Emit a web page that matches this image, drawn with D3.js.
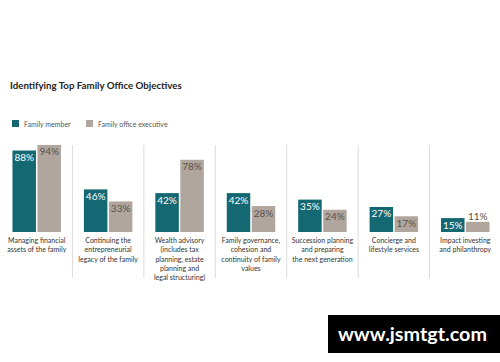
<!DOCTYPE html>
<html><head><meta charset="utf-8">
<script src="https://cdn.jsdelivr.net/npm/d3@7"></script>
<style>body{margin:0;background:#fff}svg{display:block}text{font-family:Lato,"Open Sans",sans-serif}</style>
</head><body><svg id="c" width="500" height="362"></svg>
<script>
const categories = ["c1","c2","c3","c4","c5","c6","c7"];
const categoryLabels = [
  ["Managing financial","assets of the family"],
  ["Continuing the","entrepreneurial","legacy of the family"],
  ["Wealth advisory","(includes tax","planning, estate","planning and","legal structuring)"],
  ["Family governance,","cohesion and","continuity of family","values"],
  ["Succession planning","and preparing","the next generation"],
  ["Concierge and","lifestyle services"],
  ["Impact investing","and philanthropy"]
];
const seriesNames = ["Family member","Family office executive"];
const familyMember = [88,46,42,42,35,27,15];
const officeExecutive = [94,33,78,28,24,17,11];
const colors = ["#146872","#b0a69d"];

const svg = d3.select("#c");
const x = d3.scaleBand().domain(categories).range([1,501]);
const y = d3.scaleLinear().domain([0,100]).range([232,139.4]);
const barW = 23.5, gap = 1.5;

svg.append("text").attr("x",10).attr("y",89).attr("font-size",9.7).attr("font-weight",700).attr("fill","#222")
  .text("Identifying Top Family Office Objectives");

// legend
const lg = svg.append("g");
seriesNames.forEach((s,i)=>{
  const lx = i===0?12:86;
  lg.append("rect").attr("x",lx).attr("y",120).attr("width",7).attr("height",7).attr("fill",colors[i]);
  lg.append("text").attr("x",lx+12).attr("y",126.5).attr("font-size",7).attr("fill","#555").text(s);
});

// dividers
categories.slice(1).forEach(c=>{
  svg.append("line").attr("x1",x(c)).attr("x2",x(c)).attr("y1",145).attr("y2",278)
    .attr("stroke","#dcdcdc").attr("stroke-width",1);
});

const series = [familyMember, officeExecutive];
categories.forEach((c,ci)=>{
  const cx = x(c)+x.bandwidth()/2;
  series.forEach((vals,si)=>{
    const v = vals[ci];
    const bx = si===0 ? cx-gap/2-barW : cx+gap/2;
    svg.append("rect").attr("x",bx).attr("y",y(v)).attr("width",barW).attr("height",y(0)-y(v))
      .attr("fill",colors[si]);
    const h = y(0)-y(v);
    const inside = h>=13;
    svg.append("text").attr("x",bx+barW/2).attr("y", inside ? y(v)+10.5 : y(v)-1.5)
      .attr("text-anchor","middle").attr("font-size",10).attr("font-weight",400)
      .attr("fill", si===0 ? "#ffffff" : "#5a514a")
      .text(v+"%");
  });
  const t = svg.append("text").attr("text-anchor","middle").attr("font-size",7).attr("fill","#333");
  categoryLabels[ci].forEach((ln,li)=>{
    t.append("tspan").attr("x",cx).attr("y",243+li*9.3).text(ln);
  });
});

// watermark
svg.append("rect").attr("x",328).attr("y",315).attr("width",172).attr("height",38).attr("fill","#000");
svg.append("text").attr("x",338).attr("y",341).attr("font-size",18).attr("font-weight",700)
  .attr("textLength",149).attr("lengthAdjust","spacingAndGlyphs")
  .attr("fill","#fff").attr("font-family","'Open Sans',sans-serif").text("www.jsmtgt.com");
</script></body></html>
